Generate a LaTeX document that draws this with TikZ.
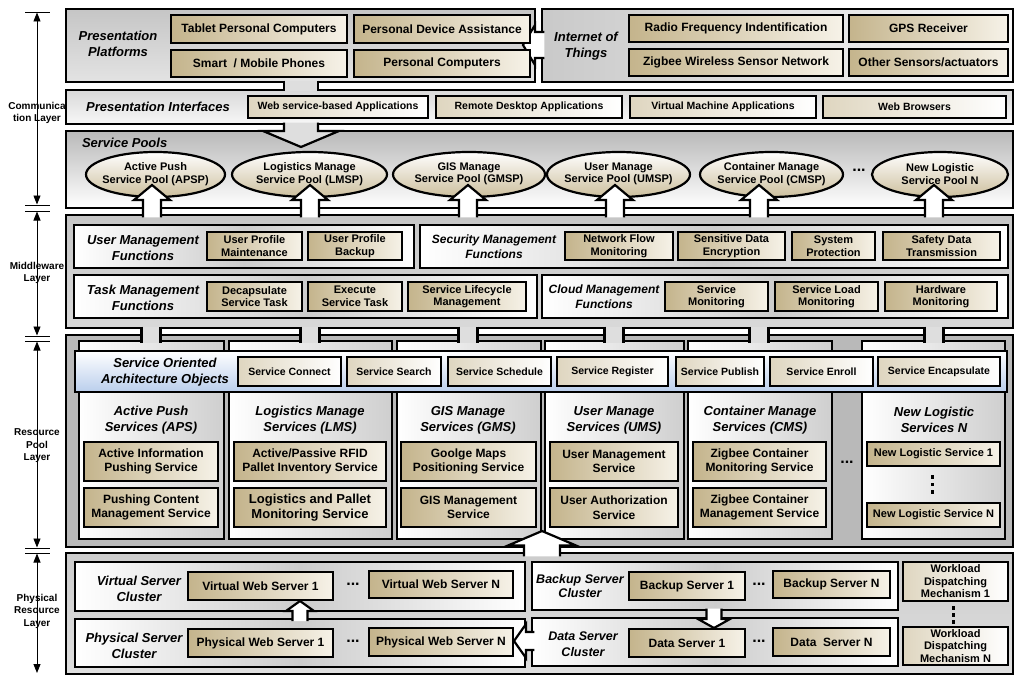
\documentclass[tikz,border=0pt]{standalone}
\usepackage{fontspec}
\setmainfont{Liberation Sans}
\usetikzlibrary{arrows.meta,shapes.geometric}
\definecolor{tanD}{RGB}{196,180,140}
\definecolor{tanL}{RGB}{246,242,232}
\definecolor{soaB}{RGB}{186,206,236}
\definecolor{pipeG}{RGB}{222,222,222}
\newcommand\mybox[7]{%
 \pgfmathsetmacro\bw{#5-#3}\pgfmathsetmacro\bh{#6-#4}%
 \pgfmathsetmacro\bcx{(#3+#5)/2}\pgfmathsetmacro\bcy{(#4+#6)/2}%
 \node[#1,minimum width=\bw pt,minimum height=\bh pt] (#2) at (\bcx,\bcy) {#7};}
\newcommand\vertarr[7]{% fill, cx, tip y, head base y, start y, shaft half, head half
 \filldraw[blk,fill=#1] (#2-#6,#5) -- (#2-#6,#4) -- (#2-#7,#4) -- (#2,#3) -- (#2+#7,#4) -- (#2+#6,#4) -- (#2+#6,#5);}
\newcommand\horarr[7]{% fill, cy, tip x, head base x, start x, shaft half, head half
 \filldraw[blk,fill=#1] (#5,#2-#6) -- (#4,#2-#6) -- (#4,#2-#7) -- (#3,#2) -- (#4,#2+#7) -- (#4,#2+#6) -- (#5,#2+#6);}
\newcommand\pipev[5]{% fill, x1, x2, y1, y2
 \fill[#1] (#2,#4) rectangle (#3,#5);
 \draw[blk] (#2,#4) -- (#2,#5) (#3,#4) -- (#3,#5);}
\newcommand\fA{\bfseries\fontsize{12}{14}\selectfont}
\newcommand\fB{\bfseries\fontsize{11}{12.5}\selectfont}
\newcommand\fP{\bfseries\fontsize{10.5}{12.5}\selectfont}
\newcommand\fC{\bfseries\fontsize{12}{14.5}\selectfont}
\newcommand\fL{\bfseries\itshape\fontsize{13}{16}\selectfont}
\newcommand\fM{\bfseries\itshape\fontsize{12}{15}\selectfont}
\begin{document}
\begin{tikzpicture}[x=1pt,y=-1pt,
 every node/.style={inner sep=0pt,outer sep=0pt},
 big/.style={draw=black,line width=2.4pt},
 blk/.style={draw=black,line width=2.2pt,line join=miter},
 tanA/.style={draw=black,line width=2.4pt,left color=tanD,right color=tanL,align=center,font=\fA},
 tanB/.style={tanA,font=\fB},
 tanC/.style={tanA,font=\fC},
 tanW/.style={tanA,font=\fP,left color=tanD!55,right color=white},
 wbox/.style={draw=black,line width=2.2pt,left color=white,right color=white,middle color=gray!40},
 col/.style={draw=black,line width=2.2pt,left color=white,right color=gray!38},
 lab/.style={align=center,font=\fL},
 ell/.style={ellipse,draw=black,line width=2.2pt,top color=white,bottom color=tanD!85},
 elt/.style={align=center,font=\fB},
 axl/.style={align=center,font=\bfseries\fontsize{10}{12.5}\selectfont},
 ax/.style={line width=0.9pt},
 axa/.style={line width=0.9pt,{Triangle[length=9pt,width=7pt]}-{Triangle[length=9pt,width=7pt]}},
 dts/.style={font=\bfseries\fontsize{16}{16}\selectfont}]
\useasboundingbox[fill=white] (0,0) rectangle (1024,682);

% ---------- left axis ----------
\foreach \n/\yy in {t0/12,t1/205,t2/211,t3/336,t4/341,t5/548,t6/553}{
  \coordinate (\n a) at (25,\yy); \coordinate (\n b) at (50,\yy);
  \draw[ax] (\n a) -- (\n b);}
\coordinate (c1a) at (37,12.5); \coordinate (c1b) at (37,204.5);
\coordinate (c2a) at (37,211.5); \coordinate (c2b) at (37,335.5);
\coordinate (c3a) at (37,341.5); \coordinate (c3b) at (37,547.5);
\coordinate (c4a) at (37,553.5); \coordinate (c4b) at (37,673);
\draw[axa] (c1a) -- (c1b);
\draw[axa] (c2a) -- (c2b);
\draw[axa] (c3a) -- (c3b);
\draw[axa] (c4a) -- (c4b);
\node[axl] (lcom) at (37,113) {Communica\\tion Layer};
\node[axl] (lmid) at (37,273) {Middleware\\Layer};
\node[axl] (lres) at (37,446) {Resource\\Pool\\Layer};
\node[axl] (lphy) at (37,611) {Physical\\Resource\\Layer};

% ---------- main boxes ----------
\mybox{big,top color=gray!45,bottom color=gray!22}{pp}{66}{9}{535}{82}{}
\mybox{big,left color=gray!42,right color=gray!6}{iot}{542}{9}{1013}{82}{}
\mybox{big,top color=gray!30,bottom color=gray!6}{pi}{66}{90}{1013}{124}{}
\mybox{big,top color=gray!55,bottom color=white}{sp}{66}{131}{1013}{208}{}
\mybox{big,top color=gray!45,bottom color=gray!30}{mw}{66}{215}{1013}{328}{}
\mybox{big,fill=gray!55}{rp}{66}{335}{1013}{547}{}
\mybox{big,top color=gray!40,bottom color=gray!25}{pr}{66}{553}{1013}{674}{}

% connectors between top boxes
\pipev{pipeG}{284}{318}{80.6}{91.4}
\vertarr{pipeG}{301}{147}{131}{122.6}{17}{38}
\horarr{white}{45}{523}{535}{544.4}{13}{20}

% ---------- presentation platforms ----------
\node[lab] (lpp) at (118,44) {Presentation\\Platforms};
\mybox{tanA}{tpc}{171}{15}{347}{43}{Tablet Personal Computers}
\mybox{tanA}{pda}{354}{15}{530}{43}{Personal Device Assistance}
\mybox{tanA}{smp}{171}{50}{347}{77}{Smart \ / Mobile Phones}
\mybox{tanA}{pcs}{354}{50}{530}{77}{Personal Computers}
\node[lab] (liot) at (586,46) {Internet of\\Things};
\mybox{tanA}{rfid}{629}{15}{843}{42}{Radio Frequency Indentification}
\mybox{tanA}{gps}{849}{15}{1008}{42}{GPS Receiver}
\mybox{tanA}{zwsn}{629}{49}{843}{76}{Zigbee Wireless Sensor Network}
\mybox{tanA}{oth}{849}{49}{1008}{76}{Other Sensors/actuators}

% ---------- presentation interfaces ----------
\node[lab] (lpi) at (158,107) {Presentation Interfaces};
\mybox{tanW}{wsa}{248}{96}{428}{118}{Web service-based Applications}
\mybox{tanW}{rda}{436}{96}{622}{118}{Remote Desktop Applications}
\mybox{tanW}{vma}{630}{96}{816}{118}{Virtual Machine Applications}
\mybox{tanW}{wbr}{823}{96}{1006}{118}{Web Browsers}

% ---------- service pools ----------
\node[lab,anchor=west] (lsp) at (82,143) {Service Pools};
\mybox{ell}{e1}{86}{152}{225}{197}{}
\mybox{ell}{e2}{232}{152}{387}{197}{}
\mybox{ell}{e3}{393}{152}{545}{197}{}
\mybox{ell}{e4}{547}{152}{690}{197}{}
\mybox{ell}{e5}{700}{152}{843}{197}{}
\mybox{ell}{e6}{872}{152}{1008}{197}{}
\node[elt] (e1t) at (155.5,174) {Active Push\\Service Pool (APSP)};
\node[elt] (e2t) at (309.5,174) {Logistics Manage\\Service Pool (LMSP)};
\node[elt] (e3t) at (469,174) {GIS Manage\\Service Pool (GMSP)};
\node[elt] (e4t) at (618.5,174) {User Manage\\Service Pool (UMSP)};
\node[elt] (e5t) at (771.5,174) {Container Manage\\Service Pool (CMSP)};
\node[elt] (e6t) at (940,174) {New Logistic\\Service Pool N};
\node[dts] (dsp) at (859,170) {...};
\foreach \cx in {152,310,468,615,759,934}{
  \vertarr{white}{\cx}{185}{200}{217.4}{9}{18}}

% ---------- middleware ----------
\mybox{wbox}{umf}{74}{225}{414}{268}{}
\mybox{wbox}{smf}{420}{225}{1008}{268}{}
\mybox{wbox}{tmf}{74}{275}{537}{318}{}
\mybox{wbox}{cmf}{542}{275}{1008}{318}{}
\node[lab] (lumf) at (143,248) {User Management\\Functions};
\node[lab,font=\fM] (lsmf) at (494,247) {Security Management\\Functions};
\node[lab] (ltmf) at (143,298) {Task Management\\Functions};
\node[lab,font=\fM] (lcmf) at (604,297) {Cloud Management\\Functions};
\mybox{tanB}{upm}{207}{232}{302}{260}{User Profile\\Maintenance}
\mybox{tanB}{upb}{308}{232}{402}{260}{User Profile\\Backup}
\mybox{tanB}{nfm}{565}{232}{673}{260}{Network Flow\\Monitoring}
\mybox{tanB}{sde}{678}{232}{785}{260}{Sensitive Data\\Encryption}
\mybox{tanB}{spr}{792}{232}{875}{260}{System\\Protection}
\mybox{tanB}{sdt}{883}{232}{1000}{260}{Safety Data\\Transmission}
\mybox{tanB}{dst}{207}{282}{302}{311}{Decapsulate\\Service Task}
\mybox{tanB}{est}{308}{282}{402}{311}{Execute\\Service Task}
\mybox{tanB}{slm}{408}{282}{526}{311}{Service Lifecycle\\Management}
\mybox{tanB}{smo}{665}{282}{768}{311}{Service\\Monitoring}
\mybox{tanB}{slo}{775}{282}{878}{311}{Service Load\\Monitoring}
\mybox{tanB}{hmo}{885}{282}{997}{311}{Hardware\\Monitoring}

% ---------- resource pool ----------
\mybox{col}{c1}{79}{341}{224}{539}{}
\mybox{col}{c2}{229}{341}{392}{539}{}
\mybox{col}{c3}{397}{341}{541}{539}{}
\mybox{col}{c4}{545}{341}{684}{539}{}
\mybox{col}{c5}{688}{341}{832}{539}{}
\mybox{col}{c6}{862}{341}{1005}{539}{}
\foreach \cx in {151,310,468,614,759,934}{
  \pipev{pipeG}{\cx-9.5}{\cx+9.5}{326.6}{343.4}}
\mybox{draw=black,line width=2.2pt,top color=white,bottom color=soaB}{soa}{75}{351}{1007}{392}{}
\node[lab] (lsoa) at (165,372) {Service Oriented\\Architecture Objects};
\mybox{tanW}{sco}{238}{357}{341}{386}{Service Connect}
\mybox{tanW}{sse}{347}{357}{441}{386}{Service Search}
\mybox{tanW}{ssc}{448}{357}{551}{386}{Service Schedule}
\mybox{tanW}{sre}{557}{357}{668}{386}{Service Register}
\mybox{tanW}{spu}{676}{357}{764}{386}{Service Publish}
\mybox{tanW}{sen}{770}{357}{873}{386}{Service Enroll}
\mybox{tanW}{sea}{878}{357}{1000}{386}{Service Encapsulate}
\node[lab] (lc1) at (151,420) {Active Push\\Services (APS)};
\node[lab] (lc2) at (310,420) {Logistics Manage\\Services (LMS)};
\node[lab] (lc3) at (468,420) {GIS Manage\\Services (GMS)};
\node[lab] (lc4) at (614,420) {User Manage\\Services (UMS)};
\node[lab] (lc5) at (760,420) {Container Manage\\Services (CMS)};
\node[lab] (lc6) at (934,420) {New Logistic\\Services N};
\mybox{tanC}{aip}{84}{442}{218}{481}{Active Information\\Pushing Service}
\mybox{tanC}{pcm}{84}{488}{218}{527}{Pushing Content\\Management Service}
\mybox{tanC}{rfp}{234}{442}{386}{481}{Active/Passive RFID\\Pallet Inventory Service}
\mybox{tanC,font=\bfseries\fontsize{13}{15}\selectfont}{lpm}{234}{488}{386}{527}{Logistics and Pallet\\Monitoring Service}
\mybox{tanC}{gmp}{401}{442}{536}{481}{Goolge Maps\\Positioning Service}
\mybox{tanC}{gms}{401}{488}{536}{527}{GIS Management\\Service}
\mybox{tanC}{ums}{550}{442}{678}{481}{User Management\\Service}
\mybox{tanC}{uas}{550}{488}{678}{527}{User Authorization\\Service}
\mybox{tanC}{zcm}{693}{442}{826}{481}{Zigbee Container\\Monitoring Service}
\mybox{tanC}{zcg}{693}{488}{826}{527}{Zigbee Container\\Management Service}
\mybox{tanB}{nl1}{867}{442}{1000}{466}{New Logistic Service 1}
\mybox{tanB}{nln}{867}{503}{1000}{527}{New Logistic Service N}
\node[dts] (drp) at (847,462) {...};
\foreach \yy in {477,484.5,492}{\fill (930.5,\yy-1.8) rectangle (933.5,\yy+1.8);}
\vertarr{white}{542}{531}{545.5}{556.4}{18}{34}

% ---------- physical resource ----------
\mybox{wbox}{vsc}{75}{562}{525}{611}{}
\mybox{wbox}{psc}{75}{619}{525}{667}{}
\mybox{wbox}{bsc}{532}{562}{898}{610}{}
\mybox{wbox}{dsc}{532}{618}{898}{666}{}
\node[lab] (lvsc) at (139,589) {Virtual Server\\Cluster};
\node[lab] (lpsc) at (134,646) {Physical Server\\Cluster};
\node[lab,font=\bfseries\itshape\fontsize{12.5}{14.5}\selectfont] (lbsc) at (580,586) {Backup Server\\Cluster};
\node[lab,font=\bfseries\itshape\fontsize{12.5}{15.5}\selectfont] (ldsc) at (583,644) {Data Server\\Cluster};
\mybox{tanC}{vw1}{188}{572}{333}{600}{Virtual Web Server 1}
\mybox{tanC}{vwn}{369}{571}{513}{598}{Virtual Web Server N}
\mybox{tanC}{pw1}{188}{629}{333}{657}{Physical Web Server 1}
\mybox{tanC}{pwn}{369}{628}{513}{656}{Physical Web Server N}
\mybox{tanC}{bs1}{629}{572}{745}{600}{Backup Server 1}
\mybox{tanC}{bsn}{773}{571}{890}{598}{Backup Server N}
\mybox{tanC}{ds1}{629}{629}{745}{657}{Data Server 1}
\mybox{tanC}{dsn}{773}{628}{890}{656}{Data \ Server N}
\node[dts] (dv) at (353,584) {...};
\node[dts] (dp) at (353,641) {...};
\node[dts] (db) at (759,584) {...};
\node[dts] (dd) at (759,641) {...};
\mybox{tanW,font=\bfseries\fontsize{11}{12.5}\selectfont}{wd1}{903}{562}{1008}{601}{Workload\\Dispatching\\Mechanism 1}
\mybox{tanW,font=\bfseries\fontsize{11}{12.5}\selectfont}{wdn}{903}{627}{1008}{665}{Workload\\Dispatching\\Mechanism N}
\foreach \yy in {608,615,622}{\fill (951.5,\yy-1.8) rectangle (954.5,\yy+1.8);}
\vertarr{white}{300}{601}{611}{621.2}{7.5}{14}
\vertarr{white}{714}{628}{619}{608.6}{7.5}{16}
\horarr{white}{641}{514}{526}{534.4}{9}{17}
\end{tikzpicture}
\end{document}
